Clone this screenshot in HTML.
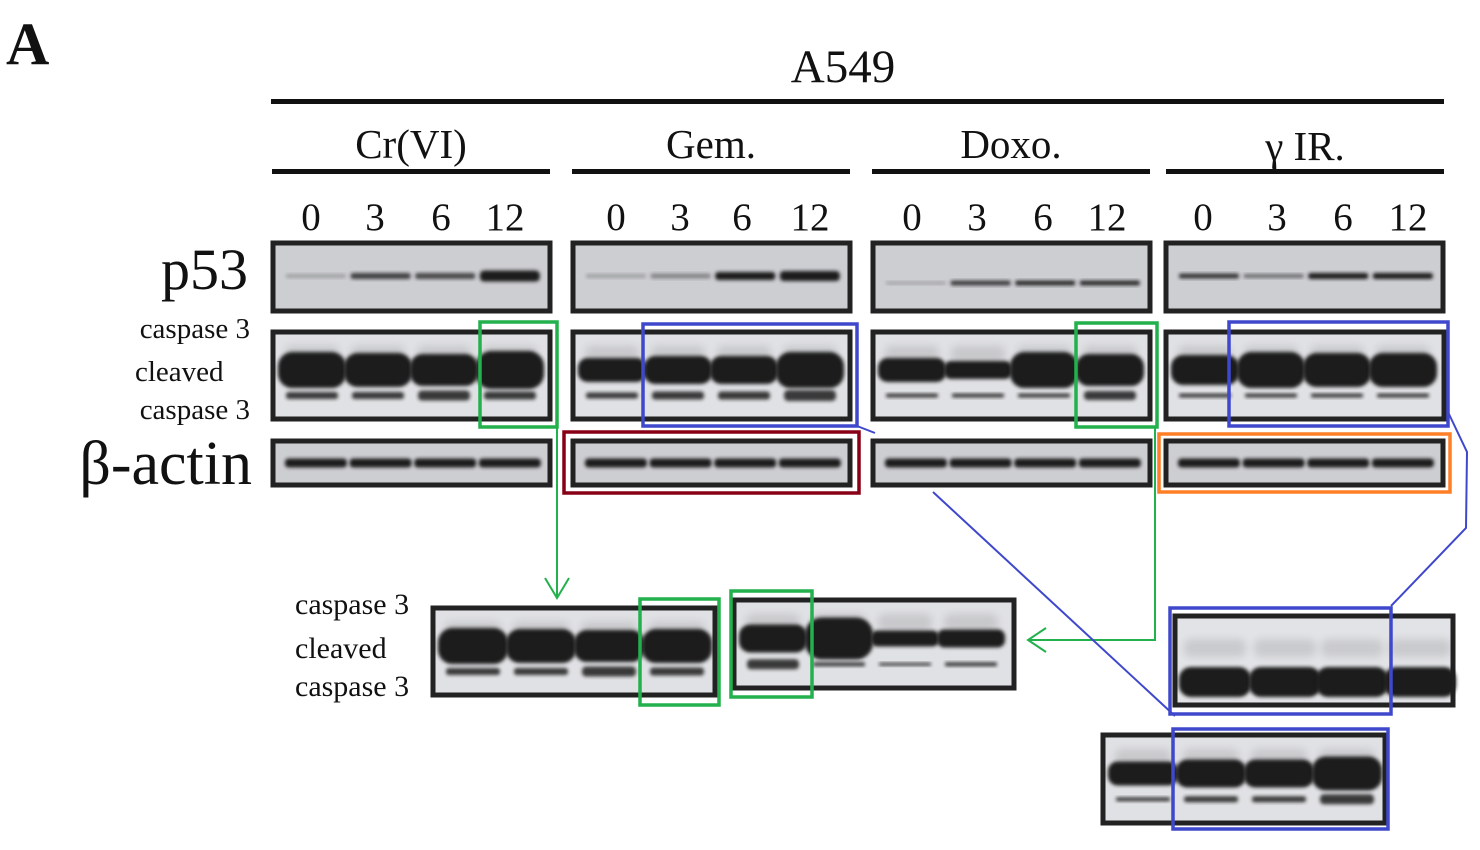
<!DOCTYPE html>
<html><head><meta charset="utf-8">
<style>
html,body{margin:0;padding:0;background:#fff;}
svg{display:block;}
text{font-family:"Liberation Serif",serif;fill:#111;}
</style></head>
<body>
<svg id="s" width="1480" height="850" viewBox="0 0 1480 850" xmlns="http://www.w3.org/2000/svg">
<defs>
<filter id="b1" x="-20%" y="-50%" width="140%" height="200%"><feGaussianBlur stdDeviation="1.8"/></filter>
<filter id="b2" x="-20%" y="-80%" width="140%" height="260%"><feGaussianBlur stdDeviation="4"/></filter>
</defs>
<text x="6" y="64" font-size="60" font-weight="bold">A</text>
<text x="843" y="82" font-size="47" text-anchor="middle">A549</text>
<rect x="271" y="99" width="1173" height="5" fill="#111"/>
<text x="411" y="158" font-size="41" text-anchor="middle">Cr(VI)</text>
<text x="711" y="158" font-size="41" text-anchor="middle">Gem.</text>
<text x="1011" y="158" font-size="41" text-anchor="middle">Doxo.</text>
<text x="1305" y="160" font-size="41" text-anchor="middle">γ IR.</text>
<rect x="272" y="169" width="278" height="5" fill="#111"/>
<rect x="572" y="169" width="278" height="5" fill="#111"/>
<rect x="872" y="169" width="278" height="5" fill="#111"/>
<rect x="1166" y="169" width="278" height="5" fill="#111"/>
<g font-size="39" text-anchor="middle">
<text x="311" y="230">0</text><text x="375" y="230">3</text><text x="441" y="230">6</text><text x="505" y="230">12</text>
<text x="616" y="230">0</text><text x="680" y="230">3</text><text x="742" y="230">6</text><text x="810" y="230">12</text>
<text x="912" y="230">0</text><text x="977" y="230">3</text><text x="1043" y="230">6</text><text x="1107" y="230">12</text>
<text x="1203" y="230">0</text><text x="1277" y="230">3</text><text x="1343" y="230">6</text><text x="1408" y="230">12</text>
</g>
<text x="248" y="289" font-size="58" text-anchor="end">p53</text>
<text x="250" y="338" font-size="29" text-anchor="end">caspase 3</text>
<text x="135" y="381" font-size="29">cleaved</text>
<text x="250" y="419" font-size="29" text-anchor="end">caspase 3</text>
<text x="252" y="484" font-size="62" text-anchor="end">β-actin</text>
<text x="295" y="614" font-size="30">caspase 3</text>
<text x="295" y="658" font-size="30">cleaved</text>
<text x="295" y="696" font-size="30">caspase 3</text>
<g id="g"></g>
<g fill="none" stroke-width="3.5">
<rect x="480" y="322" width="77" height="105" stroke="#22b14c"/>
<rect x="643" y="324" width="214" height="102" stroke="#3f48cc"/>
<rect x="1076" y="323" width="81" height="104" stroke="#22b14c"/>
<rect x="1229" y="322" width="219" height="104" stroke="#3f48cc"/>
<rect x="564" y="432" width="295" height="61" stroke="#880015"/>
<rect x="1159" y="434" width="291" height="58" stroke="#ff7f27"/>
<rect x="640" y="599" width="79" height="106" stroke="#22b14c"/>
<rect x="731" y="591" width="81" height="106" stroke="#22b14c"/>
<rect x="1170" y="608" width="221" height="106" stroke="#3f48cc"/>
<rect x="1173" y="729" width="215" height="100" stroke="#3f48cc"/>
</g>
<g fill="none" stroke-width="2">
<polyline points="557,427 557,598" stroke="#22b14c"/>
<polyline points="545,578 557,598 569,578" stroke="#22b14c"/>
<polyline points="1155,427 1155,640 1028,640" stroke="#22b14c"/>
<polyline points="1046,628 1028,640 1046,652" stroke="#22b14c"/>
<polyline points="857,426 875,433" stroke="#3f48cc"/>
<polyline points="1448,412 1467,452 1466,528 1391,606" stroke="#3f48cc"/>
<polyline points="933,492 1175,716" stroke="#3f48cc"/>
</g>
</svg>
<script>
var g=document.getElementById('g'),NS="http://www.w3.org/2000/svg";
function el(t,a){var e=document.createElementNS(NS,t);for(var k in a)e.setAttribute(k,a[k]);g.appendChild(e);return e;}
function panel(x,y,w,h,bg){el('rect',{x:x+2,y:y+2,width:w-4,height:h-4,fill:bg||'#cdced2',stroke:'#222','stroke-width':5});}
function band(cx,cy,w,h,op,blur){el('rect',{x:cx-w/2,y:cy-h/2,width:w,height:h,rx:h/2.5,ry:h/2.5,fill:'#1c1c1c',opacity:op,filter:'url(#'+(blur||'b1')+')'});}
function lanes(x,w){return [x+0.16*w,x+0.39*w,x+0.62*w,x+0.85*w];}
var P=[[271,[.25,.8,.75,1],[4,6,6,11]],[571,[.25,.4,1,1],[4,5,8,10]],[871,[.25,.8,.9,.9],[3,5,5,5]],[1164,[.85,.55,1,1],[5,4,6,6]]];
P.forEach(function(p){panel(p[0],241,281,72);var L=lanes(p[0],281);L.forEach(function(c,i){band(c,p[0]==871?283:276,60,p[2][i],p[1][i]);});});
function casp(x,y,w,h,lw,big,low){panel(x,y,w,h,'#e0e1e4');var n=big.length;for(var i=0;i<n;i++){var c=x+8+lw*(i+0.5);band(c,y+h*0.27,lw-12,18,0.12,'b2');band(c,y+h*0.44,lw+2,big[i],1,'b1');band(c,y+h*0.72,lw-14,low[i],0.85,'b1');}}
casp(271,330,281,91,66,[36,34,32,38],[7,7,10,8]);
casp(571,330,281,91,66,[24,28,28,36],[6,8,8,11]);
casp(871,330,281,91,66,[24,18,36,32],[4,4,4,9]);
casp(1164,330,282,91,66,[30,36,34,34],[4,4,4,4]);
[271,571,871,1164].forEach(function(x){panel(x,439,281,48);lanes(x,281).forEach(function(c){band(c,463,62,9,1);});});
casp(431,606,286,91,68,[36,34,32,34],[7,7,10,8]);
casp(732,598,284,92,66,[28,42,16,18],[10,4,3,4]);
panel(1173,614,282,93,'#e2e3e6');[1215,1285,1352,1420].forEach(function(c,i){band(c,648,62,18,0.12,'b2');band(c,682,72,30,1);});
casp(1101,733,286,92,68,[24,28,28,34],[4,6,6,10]);
</script>
</body></html>
